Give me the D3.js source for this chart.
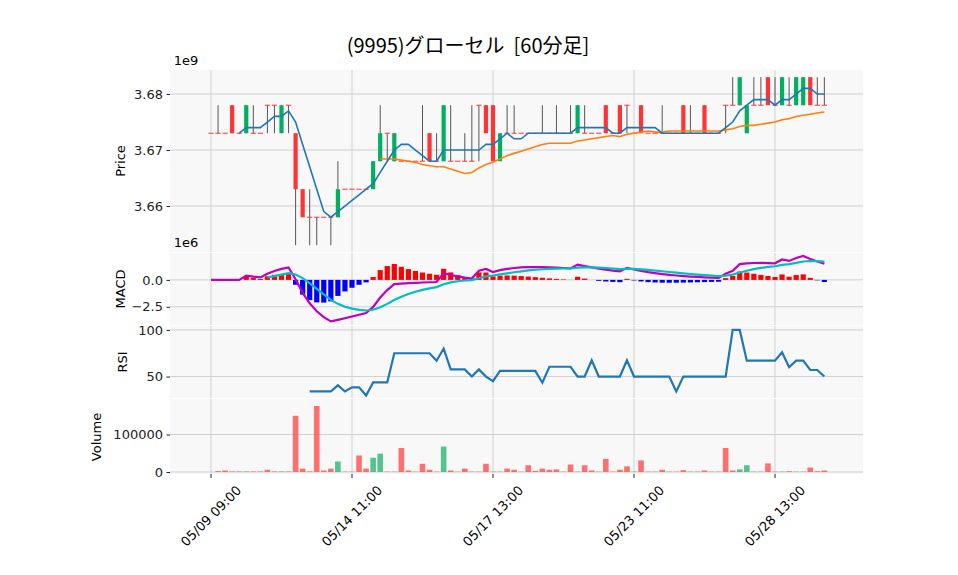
<!DOCTYPE html>
<html><head><meta charset="utf-8">
<script src="https://cdn.jsdelivr.net/npm/d3@7"></script>
<style>body{margin:0;background:#fff}text{font-family:"DejaVu Sans",sans-serif}</style>
</head><body><svg id="c" width="958" height="575"></svg>
<script>
// prices in millions of yen
const opens =[3673,3673,3673,3678,3673,3673,3673,3673,3678,3678,3673,3678,3673,3663,3658,3658,3658,3658,3658,3663,3663,3663,3663,3663,3668,3673,3668,3668,3668,3668,3668,3673,3668,3668,3668,3668,3668,3668,3678,3678,3678,3668,3673,3673,3673,3673,3673,3673,3673,3673,3673,3673,3673,3673,3673,3673,3678,3673,3678,3678,3673,3678,3673,3673,3673,3673,3673,3678,3673,3673,3678,3673,3673,3678,3678,3678,3673,3678,3678,3683,3678,3678,3678,3678,3678,3683,3678,3678];
const highs =[3673,3678,3673,3678,3673,3678,3678,3673,3678,3678,3678,3678,3673,3663,3663,3658,3658,3658,3668,3663,3663,3663,3663,3668,3678,3673,3673,3668,3668,3668,3678,3673,3673,3678,3678,3668,3673,3678,3678,3678,3678,3673,3678,3678,3673,3673,3673,3678,3673,3678,3673,3678,3678,3678,3673,3673,3678,3673,3678,3678,3673,3678,3673,3673,3678,3673,3673,3678,3678,3673,3678,3673,3673,3678,3683,3683,3678,3683,3683,3683,3683,3683,3683,3683,3683,3683,3683,3683];
const lows  =[3673,3673,3673,3673,3673,3673,3673,3673,3673,3673,3673,3673,3653,3658,3653,3653,3658,3653,3658,3663,3663,3663,3663,3663,3668,3668,3668,3668,3668,3668,3668,3668,3668,3668,3668,3668,3668,3668,3668,3673,3668,3668,3673,3673,3673,3673,3673,3673,3673,3673,3673,3673,3673,3673,3673,3673,3673,3673,3673,3673,3673,3673,3673,3673,3673,3673,3673,3673,3673,3673,3673,3673,3673,3673,3678,3678,3673,3678,3678,3678,3678,3678,3678,3678,3678,3678,3678,3678];
const closes=[3673,3673,3673,3673,3673,3678,3673,3673,3678,3678,3678,3678,3663,3658,3658,3658,3658,3658,3663,3663,3663,3663,3663,3668,3673,3673,3673,3668,3668,3668,3668,3668,3668,3678,3668,3668,3668,3668,3678,3673,3668,3673,3673,3673,3673,3673,3673,3673,3673,3673,3673,3673,3678,3673,3673,3673,3673,3673,3673,3678,3673,3673,3673,3673,3673,3673,3673,3673,3673,3673,3673,3673,3673,3678,3678,3683,3678,3678,3678,3678,3678,3683,3678,3683,3683,3678,3678,3678];
const volumes=[0,2500,4000,1500,1500,1500,1500,1500,6000,1500,1500,1500,150000,9000,1500,176000,4000,9000,28000,1000,1000,44000,9000,38000,49000,1000,1000,64000,4000,1000,22000,6000,1000,68000,4000,1000,9000,1000,1000,22000,1000,1000,9000,6000,1000,18000,3000,9000,6000,7000,1000,20000,1000,18000,4000,1000,35000,1000,6000,15000,1000,31000,1000,1000,6000,1000,1000,5000,1000,1000,4000,1000,1000,64000,4000,7000,18000,1000,1000,23000,1000,1000,2000,1000,1000,12000,2000,4000];
const rsiIdx=[14,17,18,19,20,21,22,23,25,26,31,32,33,34,36,37,38,39,40,41,46,47,48,51,52,53,54,55,58,59,60,65,66,67,73,74,75,76,80,81,82,83,84,85,86,87];
const rsiVal=[34,34,40.6,34,38.5,38.5,29.7,43.7,43.7,75,75,67,80,57.7,57.7,50,57.7,50,45,56,56,43.4,60.5,60.5,50,50,67.5,50,50,67.5,50,50,34,50,50,100,100,67,67,76,60,67,67,57,57,50];
const tickIdx=[0,20,40,60,80];
const tickLabels=["05/09 09:00","05/14 11:00","05/17 13:00","05/23 11:00","05/28 13:00"];
const title="(9995)グローセル\u00a0\u00a0[60分足]";

const svg=d3.select("#c");
const N=closes.length;
const X0=170,X1=863;
const x=d3.scaleLinear().domain([0,N-1]).range([211,211+7.05*(N-1)]);
const P={top:70,bot:252}, M={top:253,bot:325}, R={top:326,bot:398}, V={top:399,bot:474};
const yP=d3.scaleLinear().domain([3651.79,3684.29]).range([P.bot,P.top]);
const yM=d3.scaleLinear().domain([-4.19,2.5]).range([M.bot,M.top]);
const yR=d3.scaleLinear().domain([27,104.2]).range([R.bot,R.top]);
const yV=d3.scaleLinear().domain([-5300,194700]).range([V.bot,V.top]);

function sma(a,n){return a.map((v,i)=>i<n-1?null:d3.mean(a.slice(i-n+1,i+1)));}
function ema(a,n){const k=2/(n+1);let e=a[0];return a.map((v,i)=>i===0?e:(e=v*k+e*(1-k)));}
const ma5=sma(closes,5), ma25=sma(closes,25);
const e12=ema(closes,12), e26=ema(closes,26);
const macd=e12.map((v,i)=>v-e26[i]);
const sig=ema(macd,9);
const hist=macd.map((v,i)=>v-sig[i]);

function panel(p,ys,ticks,fmt){
  svg.append("rect").attr("x",X0).attr("y",p.top).attr("width",X1-X0).attr("height",p.bot-p.top).attr("fill","#f8f8f8");
  const g=svg.append("g");
  ticks.forEach(t=>g.append("line").attr("x1",X0).attr("x2",X1).attr("y1",ys(t)).attr("y2",ys(t)).attr("stroke","#d0d0d0"));
  tickIdx.forEach(i=>g.append("line").attr("x1",x(i)).attr("x2",x(i)).attr("y1",p.top).attr("y2",p.bot).attr("stroke","#d0d0d0"));
  const ax=svg.append("g").attr("transform",`translate(${X0},0)`).call(d3.axisLeft(ys).tickValues(ticks).tickFormat(fmt).tickSize(3.5).tickPadding(3.5));
  ax.select(".domain").remove();
  ax.selectAll("text").attr("font-size",13).attr("fill","#222").style("font-family","DejaVu Sans");
  ax.selectAll("line").attr("stroke","#222");
}
panel(P,yP,[3660,3670,3680],d=>(d/1000).toFixed(2));
panel(M,yM,[0,-2.5],d=>d===0?"0.0":"\u22122.5");
panel(R,yR,[50,100],d=>d);
panel(V,yV,[0,100000],d=>d);

function lab(t,xx,yy,rot){svg.append("text").attr("x",xx).attr("y",yy).attr("font-size",13).attr("text-anchor","middle")
  .attr("transform",rot?`rotate(-90,${xx},${yy})`:null).text(t);}
lab("Price",125,161,true);lab("MACD",125,289,true);lab("RSI",127,362,true);lab("Volume",101,437,true);
lab("1e9",186,65);lab("1e6",186,247);

const cw=4.2;
const cg=svg.append("g");
d3.range(N).forEach(i=>{
  const o=opens[i],c=closes[i],h=highs[i],l=lows[i];
  if(h!==l) cg.append("line").attr("x1",x(i)).attr("x2",x(i)).attr("y1",yP(h)).attr("y2",yP(l)).attr("stroke","#555").attr("stroke-width",1);
  if(o===c) cg.append("line").attr("x1",x(i)-2.6).attr("x2",x(i)+2.6).attr("y1",yP(o)).attr("y2",yP(o)).attr("stroke","#ff3333").attr("stroke-width",1);
  else cg.append("rect").attr("x",x(i)-cw/2).attr("width",cw).attr("y",yP(Math.max(o,c))).attr("height",Math.abs(yP(o)-yP(c)))
    .attr("fill",c>o?"#00b060":"#ff3333");
});
const line=(ys)=>d3.line().defined(d=>d[1]!=null).x(d=>x(d[0])).y(d=>ys(d[1]));
svg.append("path").attr("d",line(yP)(ma25.map((v,i)=>[i,v]))).attr("fill","none").attr("stroke","#ff7f0e").attr("stroke-width",1.6);
svg.append("path").attr("d",line(yP)(ma5.map((v,i)=>[i,v]))).attr("fill","none").attr("stroke","#1f77b4").attr("stroke-width",1.6);

const hw=5.2;
d3.range(N).forEach(i=>{const h=hist[i];
  svg.append("rect").attr("x",x(i)-hw/2).attr("width",hw).attr("y",yM(Math.max(0,h))).attr("height",Math.abs(yM(h)-yM(0))).attr("fill",h>=0?"#ff0000":"#0000ff");});
svg.append("path").attr("d",line(yM)(macd.map((v,i)=>[i,v]))).attr("fill","none").attr("stroke","#bf00bf").attr("stroke-width",2.2);
svg.append("path").attr("d",line(yM)(sig.map((v,i)=>[i,i<8?null:v]))).attr("fill","none").attr("stroke","#00bfbf").attr("stroke-width",2.2);

svg.append("path").attr("d",line(yR)(rsiIdx.map((k,j)=>[k,rsiVal[j]]))).attr("fill","none").attr("stroke","#1f77b4").attr("stroke-width",2.2);

d3.range(N).forEach(i=>{const v=volumes[i];
  svg.append("rect").attr("x",x(i)-2.8).attr("width",5.6).attr("y",yV(v)).attr("height",yV(0)-yV(v))
   .attr("fill",closes[i]>opens[i]?"#2bb673":"#ff4d4d").attr("opacity",0.8);});

tickIdx.forEach((k,j)=>{
  svg.append("line").attr("x1",x(k)).attr("x2",x(k)).attr("y1",V.bot).attr("y2",V.bot+4).attr("stroke","#222");
  svg.append("text").attr("font-size",13).attr("text-anchor","middle").attr("dominant-baseline","central")
   .attr("transform",`translate(${x(k)},${516}) rotate(-45)`).text(tickLabels[j]);
});
svg.append("text").attr("x",468).attr("y",53).attr("text-anchor","middle").attr("font-size",20)
  .style("font-family","'Noto Sans CJK JP',sans-serif").text(title);
</script></body></html>
